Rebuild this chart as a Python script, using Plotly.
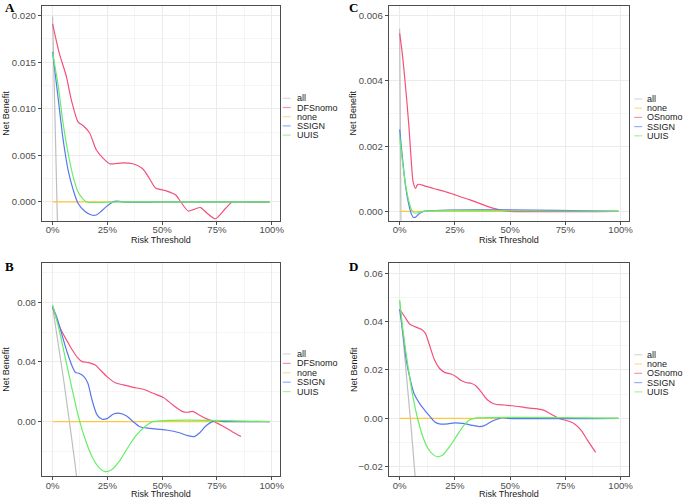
import plotly.graph_objects as go

W, H = 685, 498

# ---------------- data ----------------
series_AB = ["all", "DFSnomo", "none", "SSIGN", "UUIS"]
series_CD = ["all", "none", "OSnomo", "SSIGN", "UUIS"]
x_ticks = [0, 0.25, 0.5, 0.75, 1.0]
x_tick_labels = ["0%", "25%", "50%", "75%", "100%"]

# Panel A
A_all_x = [0, 0.0199, 0.04]
A_all_y = [0.0199, 0.0, -0.0205]
A_none_x = [0, 0.99]
A_none_y = [0, 0]
A_dfs_x = [0, 0.03, 0.063, 0.086, 0.116, 0.139, 0.169, 0.199, 0.23, 0.26, 0.282, 0.32, 0.366, 0.41,
           0.44, 0.47, 0.517, 0.562, 0.585, 0.619, 0.645, 0.675, 0.705, 0.743, 0.789, 0.82, 0.9, 0.99]
A_dfs_y = [0.0191, 0.0160, 0.01345, 0.0109, 0.0086, 0.0082, 0.0074, 0.0056, 0.0047, 0.0041, 0.0041,
           0.0042, 0.0041, 0.0036, 0.0026, 0.0015, 0.0012, 0.00075, 0.0, -0.00097, -0.0008, -0.0006,
           -0.0012, -0.0018, -0.0007, 0.0, 0.0, 0.0]
A_ssign_x = [0, 0.026, 0.048, 0.071, 0.094, 0.116, 0.147, 0.177, 0.199, 0.222, 0.245, 0.275, 0.29, 0.32, 0.5, 0.99]
A_ssign_y = [0.0161, 0.011, 0.0067, 0.0034, 0.0013, -0.00014, -0.001, -0.0014, -0.0014, -0.001, -0.0005,
             0.0, 0.0001, 0.0, 0.0, 0.0]
A_uuis_x = [0, 0.026, 0.048, 0.071, 0.094, 0.116, 0.139, 0.154, 0.3, 0.99]
A_uuis_y = [0.016, 0.0124, 0.0084, 0.0052, 0.0027, 0.0011, 0.0003, 0.0, 0.0, 0.0]

# Panel B
B_all_x = [0, 0.05, 0.1, 0.15]
B_all_y = [0.077, 0.0284, -0.0256, -0.086]
B_none_x = [0, 0.99]
B_none_y = [0, 0]
B_dfs_x = [0, 0.038, 0.068, 0.09, 0.113, 0.135, 0.165, 0.195, 0.218, 0.248, 0.286, 0.323, 0.368, 0.414,
           0.459, 0.504, 0.549, 0.594, 0.617, 0.639, 0.669, 0.699, 0.737, 0.774, 0.82, 0.86]
B_dfs_y = [0.0765, 0.0615, 0.0536, 0.048, 0.0431, 0.0402, 0.0396, 0.038, 0.0346, 0.0302, 0.0261, 0.0246,
           0.023, 0.0217, 0.019, 0.0163, 0.0112, 0.0067, 0.0063, 0.0069, 0.0045, 0.0022, 0.0, -0.0027,
           -0.0067, -0.01]
B_ssign_x = [0, 0.023, 0.045, 0.068, 0.09, 0.105, 0.12, 0.143, 0.161, 0.18, 0.203, 0.226, 0.248, 0.278,
             0.308, 0.338, 0.368, 0.398, 0.444, 0.519, 0.579, 0.617, 0.647, 0.669, 0.699, 0.729, 0.752,
             0.774, 0.79, 0.99]
B_ssign_y = [0.0771, 0.0682, 0.057, 0.0458, 0.0369, 0.0329, 0.0324, 0.0302, 0.0257, 0.0145, 0.0045, 0.0016,
             0.002, 0.0051, 0.0056, 0.0038, 0.0, -0.0034, -0.0045, -0.0056, -0.0074, -0.0094, -0.01,
             -0.0078, -0.0029, 0.0, 0.0007, 0.0002, 0.0, 0.0]
B_uuis_x = [0, 0.03, 0.06, 0.09, 0.12, 0.15, 0.18, 0.211, 0.241, 0.271, 0.308, 0.346, 0.383, 0.421, 0.459, 0.99]
B_uuis_y = [0.0782, 0.0615, 0.0413, 0.0212, 0.0022, -0.0123, -0.0235, -0.0306, -0.0335, -0.032, -0.0257,
            -0.0168, -0.0089, -0.0034, 0.0, 0.0]

# Panel C
C_all_x = [0, 0.0056, 0.012]
C_all_y = [0.0056, 0.0, -0.0062]
C_none_x = [0, 0.99]
C_none_y = [0, 0]
C_os_x = [0, 0.012, 0.027, 0.042, 0.052, 0.061, 0.072, 0.079, 0.087, 0.109, 0.154, 0.199, 0.244, 0.319,
          0.394, 0.454, 0.5, 0.99]
C_os_y = [0.00546, 0.00484, 0.0038, 0.0026, 0.0016, 0.0009, 0.0007, 0.0008, 0.00083, 0.00079, 0.0007,
          0.00062, 0.00052, 0.00035, 0.00016, 0.00004, 0.0, 0.0]
C_ssign_x = [0, 0.012, 0.027, 0.042, 0.052, 0.061, 0.072, 0.087, 0.109, 0.99]
C_ssign_y = [0.00251, 0.00168, 0.00076, 0.00019, -0.00006, -0.00018, -0.00018, -0.00008, 0.0, 0.0]
C_uuis_x = [0, 0.012, 0.027, 0.042, 0.057, 0.072, 0.087, 0.109, 0.99]
C_uuis_y = [0.00229, 0.00157, 0.00081, 0.0003, 0.00001, -0.00006, -0.00003, 0.0, 0.0]

# Panel D
D_all_x = [0, 0.05, 0.1]
D_all_y = [0.0485, -0.0016, -0.0572]
D_none_x = [0, 0.99]
D_none_y = [0, 0]
D_os_x = [0, 0.023, 0.045, 0.068, 0.098, 0.116, 0.135, 0.158, 0.18, 0.203, 0.233, 0.256, 0.278, 0.3, 0.323,
          0.346, 0.368, 0.398, 0.429, 0.474, 0.519, 0.579, 0.624, 0.654, 0.692, 0.729, 0.759, 0.789, 0.82,
          0.85, 0.887]
D_os_y = [0.0451, 0.042, 0.039, 0.0379, 0.0368, 0.0352, 0.0303, 0.0241, 0.0207, 0.019, 0.0183, 0.0172,
          0.0156, 0.0148, 0.0145, 0.0134, 0.011, 0.0076, 0.0059, 0.0055, 0.0051, 0.0043, 0.0039, 0.0033,
          0.0014, -0.0003, -0.001, -0.0021, -0.0048, -0.009, -0.0141]
D_ssign_x = [0, 0.015, 0.03, 0.045, 0.065, 0.09, 0.113, 0.135, 0.158, 0.18, 0.218, 0.248, 0.286, 0.323,
             0.361, 0.383, 0.414, 0.444, 0.466, 0.489, 0.99]
D_ssign_y = [0.0451, 0.0352, 0.0241, 0.0172, 0.0103, 0.0062, 0.0034, 0.001, -0.0014, -0.0023, -0.0023,
             -0.0019, -0.0021, -0.0028, -0.0034, -0.003, -0.0014, -0.0003, 0.0003, 0.0, 0.0]
D_uuis_x = [0, 0.015, 0.038, 0.06, 0.083, 0.105, 0.128, 0.15, 0.173, 0.195, 0.226, 0.256, 0.286, 0.316,
            0.338, 0.99]
D_uuis_y = [0.049, 0.0365, 0.0214, 0.009, -0.0007, -0.0076, -0.0124, -0.0149, -0.0159, -0.0152, -0.0117,
            -0.0076, -0.0034, -0.0007, 0.0, 0.0]

colors = {"all": "#BEBEBE", "DFSnomo": "#F4507A", "OSnomo": "#F4507A", "none": "#FFC83D",
          "SSIGN": "#5577F0", "UUIS": "#66EE66"}

panels = [
    dict(letter="A", names=series_AB,
         data={"all": (A_all_x, A_all_y), "DFSnomo": (A_dfs_x, A_dfs_y), "none": (A_none_x, A_none_y),
               "SSIGN": (A_ssign_x, A_ssign_y), "UUIS": (A_uuis_x, A_uuis_y)},
         px=(42, 282), py=(5.7, 220.7), yr=[-0.00201, 0.02106], ytick=0.005, yminor=0.0025, yfmt=".3f",
         leg=(284.5, 297, 98.3, 9.2), ylab_x=6.5, xt_off=19.5, let=(4, -1)),
    dict(letter="B", names=series_AB,
         data={"all": (B_all_x, B_all_y), "DFSnomo": (B_dfs_x, B_dfs_y), "none": (B_none_x, B_none_y),
               "SSIGN": (B_ssign_x, B_ssign_y), "UUIS": (B_uuis_x, B_uuis_y)},
         px=(42, 282), py=(262.7, 476), yr=[-0.0364, 0.1065], ytick=0.04, yminor=0.02, yfmt=".2f",
         leg=(284.5, 297, 354, 9.4), ylab_x=6.5, xt_off=17.5, let=(4, 258)),
    dict(letter="C", names=series_CD,
         data={"all": (C_all_x, C_all_y), "none": (C_none_x, C_none_y), "OSnomo": (C_os_x, C_os_y),
               "SSIGN": (C_ssign_x, C_ssign_y), "UUIS": (C_uuis_x, C_uuis_y)},
         px=(391, 633), py=(5.7, 220.7), yr=[-0.000288, 0.00631], ytick=0.002, yminor=0.001, yfmt=".3f",
         leg=(638, 649, 99, 9.2), ylab_x=355.5, xt_off=19.5, let=(350, -1)),
    dict(letter="D", names=series_CD,
         data={"all": (D_all_x, D_all_y), "none": (D_none_x, D_none_y), "OSnomo": (D_os_x, D_os_y),
               "SSIGN": (D_ssign_x, D_ssign_y), "UUIS": (D_uuis_x, D_uuis_y)},
         px=(391, 633), py=(263.3, 476), yr=[-0.02385, 0.0641], ytick=0.02, yminor=0.01, yfmt=".2f",
         leg=(638, 649, 354.7, 9.3), ylab_x=355.5, xt_off=17.5, let=(350, 258)),
]

fig = go.Figure()
shapes = []
annotations = []
FONT = "Liberation Sans, Arial, sans-serif"

for i, p in enumerate(panels):
    k = "" if i == 0 else str(i + 1)
    xa, ya = "x" + k, "y" + k
    for name in p["names"]:
        xs, ys = p["data"][name]
        fig.add_trace(go.Scatter(x=xs, y=ys, mode="lines", name=name, xaxis=xa, yaxis=ya,
                                 line=dict(color=colors[name], width=1.2, shape="spline", smoothing=0.7),
                                 showlegend=False, hoverinfo="skip"))
    x0, x1 = p["px"][0] / W, p["px"][1] / W
    y1, y0 = 1 - p["py"][0] / H, 1 - p["py"][1] / H
    axcommon = dict(showline=True, mirror=True, linecolor="#4d4d4d", linewidth=1,
                    ticks="outside", ticklen=3, tickcolor="#4d4d4d", tickwidth=1,
                    tickfont=dict(family=FONT, size=9.6, color="#4d4d4d"),
                    showgrid=True, gridcolor="#EBEBEB", gridwidth=1, zeroline=False)
    fig.update_layout(**{
        "xaxis" + k: dict(domain=[x0, x1], range=[-0.0495, 1.0395], tickvals=x_ticks,
                          ticktext=x_tick_labels, anchor=ya, ticklabelstandoff=-3,
                          minor=dict(dtick=0.125, tick0=0, showgrid=True, gridcolor="#F5F5F5",
                                     gridwidth=0.7, ticks=""),
                          **axcommon),
        "yaxis" + k: dict(domain=[y0, y1], range=p["yr"], dtick=p["ytick"], tick0=0,
                          tickformat=p["yfmt"], anchor=xa,
                          minor=dict(dtick=p["yminor"], tick0=0, showgrid=True, gridcolor="#F5F5F5",
                                     gridwidth=0.7, ticks=""),
                          **axcommon),
    })
    # axis titles
    annotations.append(dict(text="Risk Threshold", xref="paper", yref="paper",
                            x=(x0 + x1) / 2, y=y0 - p["xt_off"] / H, xanchor="center", yanchor="middle",
                            showarrow=False, borderpad=0,
                            font=dict(family=FONT, size=9, color="#1a1a1a")))
    annotations.append(dict(text="Net Benefit", xref="paper", yref="paper", textangle=-90,
                            x=p["ylab_x"] / W, y=(y0 + y1) / 2, xanchor="center", yanchor="middle",
                            showarrow=False, font=dict(family=FONT, size=9, color="#1a1a1a")))
    # panel letter
    lx, ly = p["let"]
    annotations.append(dict(text="<b>" + p["letter"] + "</b>", xref="paper", yref="paper",
                            x=lx / W, y=1 - ly / H, xanchor="left", yanchor="top", showarrow=False,
                            borderpad=0,
                            font=dict(family="Liberation Serif, Times New Roman, serif", size=13,
                                      color="black")))
    # legend (manual, compact)
    kx, tx, ly0, step = p["leg"]
    for j, name in enumerate(p["names"]):
        yy = 1 - (ly0 + j * step) / H
        shapes.append(dict(type="line", xref="paper", yref="paper", x0=kx / W, x1=(kx + 8) / W,
                           y0=yy, y1=yy, line=dict(color=colors[name], width=1.2), opacity=0.6))
        annotations.append(dict(text=name, xref="paper", yref="paper", x=tx / W, y=yy,
                                xanchor="left", yanchor="middle", showarrow=False,
                                font=dict(family=FONT, size=9, color="#1a1a1a")))

fig.update_layout(width=W, height=H, margin=dict(l=0, r=0, t=0, b=0),
                  paper_bgcolor="white", plot_bgcolor="white",
                  shapes=shapes, annotations=annotations, showlegend=False)

fig.write_html("out.html", config={"displayModeBar": False},
               post_script="document.body.style.margin='0px';document.body.style.padding='0px';")
